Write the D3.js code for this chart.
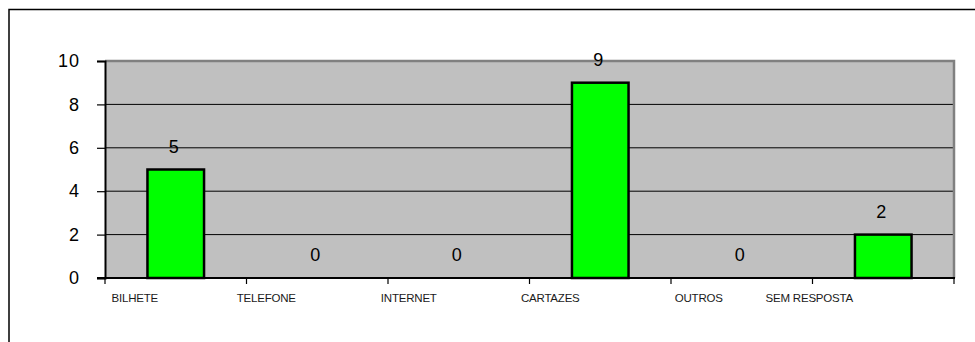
<!DOCTYPE html>
<html>
<head>
<meta charset="utf-8">
<script src="https://cdn.jsdelivr.net/npm/d3@7"></script>
<style>
  html, body { margin: 0; padding: 0; background: #fff; }
  svg { display: block; }
  text { font-family: "Liberation Sans", Arial, sans-serif; }
</style>
</head>
<body>
<svg id="chart" width="975" height="342"></svg>
<script>
// Survey answers: how respondents heard about the event
const categories = ["BILHETE", "TELEFONE", "INTERNET", "CARTAZES", "OUTROS", "SEM RESPOSTA"];
const counts = [5, 0, 0, 9, 0, 2];
const yTicks = [0, 2, 4, 6, 8, 10];

// horizontal nudge for each category caption (px, relative to band centre)
const captionShift = [-41, -51, -50, -50, -43, -74];

const svg = d3.select("#chart");
const W = 975, H = 342;

// outer chart frame (runs off the right and bottom edge)
svg.append("rect")
  .attr("x", 9).attr("y", 9.5)
  .attr("width", W + 10).attr("height", H + 10)
  .attr("fill", "#fff").attr("stroke", "#000").attr("stroke-width", 1.5);

const plot = { left: 105, right: 954, top: 61, bottom: 278 };

const x = d3.scaleBand().domain(categories).range([plot.left, plot.right]).padding(0);
const y = d3.scaleLinear().domain([0, 10]).range([plot.bottom, plot.top]);

// plot area background
svg.append("rect")
  .attr("x", plot.left).attr("y", plot.top)
  .attr("width", plot.right - plot.left).attr("height", plot.bottom - plot.top)
  .attr("fill", "#c0c0c0");

// grid lines
svg.append("g")
  .selectAll("line")
  .data(yTicks.filter(t => t > 0 && t < 10))
  .join("line")
  .attr("x1", plot.left).attr("x2", plot.right)
  .attr("y1", d => y(d)).attr("y2", d => y(d))
  .attr("stroke", "#000").attr("stroke-width", 1);

// top and right border of the plot area
svg.append("path")
  .attr("d", `M${plot.left},${y(10)}H${plot.right}V${plot.bottom}`)
  .attr("fill", "none").attr("stroke", "#808080").attr("stroke-width", 2.5);

// bars
const barW = x.bandwidth() * 0.4;
svg.append("g")
  .selectAll("rect")
  .data(categories.map((c, i) => ({ c, v: counts[i] })).filter(d => d.v > 0))
  .join("rect")
  .attr("x", d => x(d.c) + (x.bandwidth() - barW) / 2)
  .attr("y", d => y(d.v))
  .attr("width", barW)
  .attr("height", d => y(0) - y(d.v))
  .attr("fill", "#00ff00")
  .attr("stroke", "#000").attr("stroke-width", 2.5);

// value labels
svg.append("g")
  .selectAll("text")
  .data(categories.map((c, i) => ({ c, v: counts[i] })))
  .join("text")
  .attr("x", d => x(d.c) + x.bandwidth() / 2 - 2)
  .attr("y", d => y(d.v) - 17)
  .attr("text-anchor", "middle")
  .attr("font-size", 18)
  .attr("fill", "#000")
  .text(d => d.v);

// y axis
const yAxis = d3.axisLeft(y).tickValues(yTicks).tickSize(8).tickPadding(17).tickFormat(d => d);
const gy = svg.append("g").attr("transform", `translate(${plot.left},0)`).call(yAxis);
gy.select(".domain").attr("stroke", "#000").attr("stroke-width", 2);
gy.selectAll(".tick line").attr("stroke", "#000").attr("stroke-width", 1.2);
gy.selectAll(".tick text")
  .attr("font-size", 18)
  .attr("fill", "#000")
  .attr("letter-spacing", 1)
  .attr("font-family", "'Liberation Sans', Arial, sans-serif");

// x axis line with ticks at the band boundaries
const bounds = categories.map(c => x(c)).concat([plot.right]);
svg.append("line")
  .attr("x1", plot.left - 8).attr("x2", plot.right + 1)
  .attr("y1", plot.bottom).attr("y2", plot.bottom)
  .attr("stroke", "#000").attr("stroke-width", 2);
svg.append("g")
  .selectAll("line")
  .data(bounds)
  .join("line")
  .attr("x1", d => d).attr("x2", d => d)
  .attr("y1", plot.bottom).attr("y2", plot.bottom + 6)
  .attr("stroke", "#000").attr("stroke-width", 1.2);

// category captions
svg.append("g")
  .selectAll("text")
  .data(categories)
  .join("text")
  .attr("x", (d, i) => x(d) + x.bandwidth() / 2 + captionShift[i])
  .attr("y", 302)
  .attr("text-anchor", "middle")
  .attr("font-size", 11.5)
  .attr("fill", "#1a1a1a")
  .attr("letter-spacing", -0.2)
  .text(d => d);
</script>
</body>
</html>
